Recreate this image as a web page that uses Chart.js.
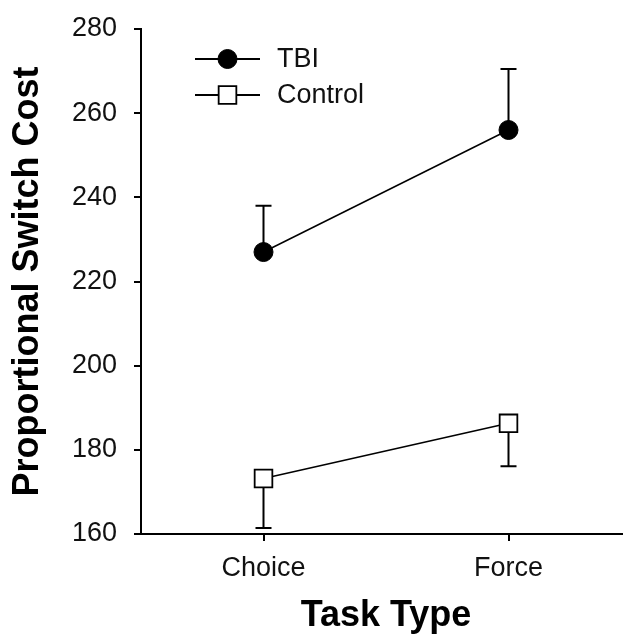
<!DOCTYPE html>
<html>
<head>
<meta charset="utf-8">
<script src="https://cdn.jsdelivr.net/npm/chart.js@4.4.1/dist/chart.umd.min.js"></script>
<style>
  html, body { margin: 0; padding: 0; background: #fff; overflow: hidden; }
  #wrap { width: 632px; height: 638px; }
</style>
</head>
<body>
<div id="wrap"><canvas id="myChart" width="632" height="638"></canvas></div>
<script>
// task types on the x axis
const taskTypes = ['Choice', 'Force'];

// mean proportional switch cost per group
const tbiMeans = [227, 256];
const controlMeans = [173.2, 186.3];

// error bar lengths (TBI drawn upward, Control drawn downward)
const tbiErrors = [11, 14.5];
const controlErrors = [11.8, 10.2];

const yMin = 160;
const yMax = 280;
const yStep = 20;

const FONT = "'Liberation Sans', Arial, sans-serif";
const INK = '#111';

// one-sided error bars, drawn under the markers
const errorBars = {
	id: 'errorBars',
	beforeDatasetsDraw(chart) {
		const ctx = chart.ctx;
		const yScale = chart.scales.y;
		chart.data.datasets.forEach((ds, i) => {
			const meta = chart.getDatasetMeta(i);
			ctx.save();
			ctx.strokeStyle = '#000';
			ctx.lineWidth = 2;
			meta.data.forEach((pt, j) => {
				const end = ds.data[j] + ds.errorSide * ds.errors[j];
				const yEnd = yScale.getPixelForValue(end);
				ctx.beginPath();
				ctx.moveTo(pt.x, pt.y);
				ctx.lineTo(pt.x, yEnd);
				ctx.moveTo(pt.x - 8, yEnd);
				ctx.lineTo(pt.x + 8, yEnd);
				ctx.stroke();
			});
			ctx.restore();
		});
	}
};

// legend: short line with the marker in the middle, label on the right
const lineLegend = {
	id: 'lineLegend',
	afterDraw(chart) {
		const ctx = chart.ctx;
		const area = chart.chartArea;
		chart.data.datasets.forEach((ds, i) => {
			const y = area.top + 30 + i * 36;
			const x0 = area.left + 54;
			const x1 = x0 + 65;
			const xm = (x0 + x1) / 2;
			ctx.save();
			ctx.strokeStyle = '#000';
			ctx.lineWidth = 2;
			ctx.beginPath();
			ctx.moveTo(x0, y);
			ctx.lineTo(x1, y);
			ctx.stroke();
			ctx.fillStyle = ds.pointBackgroundColor;
			ctx.strokeStyle = ds.pointBorderColor;
			ctx.lineWidth = ds.pointBorderWidth;
			Chart.helpers.drawPoint(ctx, {
				pointStyle: ds.pointStyle,
				radius: ds.pointRadius,
				rotation: 0,
				borderWidth: ds.pointBorderWidth
			}, xm, y);
			ctx.fillStyle = INK;
			ctx.font = '27px ' + FONT;
			ctx.textBaseline = 'middle';
			ctx.textAlign = 'left';
			ctx.fillText(ds.label, x1 + 17, y + 1);
			ctx.restore();
		});
	}
};

const data = {
	labels: taskTypes,
	datasets: [
		{
			label: 'TBI',
			data: tbiMeans,
			errors: tbiErrors,
			errorSide: 1,
			borderColor: '#000',
			borderWidth: 1.5,
			pointStyle: 'circle',
			pointRadius: 9.5,
			pointBackgroundColor: '#000',
			pointBorderColor: '#000',
			pointBorderWidth: 1
		},
		{
			label: 'Control',
			data: controlMeans,
			errors: controlErrors,
			errorSide: -1,
			borderColor: '#000',
			borderWidth: 1.5,
			pointStyle: 'rect',
			pointRadius: 12.5,
			pointBackgroundColor: '#fff',
			pointBorderColor: '#000',
			pointBorderWidth: 1.8
		}
	]
};

const config = {
	type: 'line',
	data: data,
	options: {
		responsive: false,
		animation: false,
		devicePixelRatio: 1,
		layout: {
			autoPadding: false,
			padding: { top: 29, right: 1, left: 0, bottom: 0 }
		},
		plugins: {
			legend: { display: false },
			tooltip: { enabled: false }
		},
		scales: {
			x: {
				type: 'category',
				offset: true,
				grid: {
					offset: false,
					drawOnChartArea: false,
					drawTicks: true,
					tickLength: 7,
					color: '#000',
					lineWidth: 2
				},
				border: { color: '#000', width: 2 },
				ticks: {
					color: INK,
					padding: 11,
					font: { family: FONT, size: 27 }
				},
				title: {
					display: true,
					text: 'Task Type',
					color: '#000',
					padding: { top: 14, bottom: 0 },
					font: { family: FONT, size: 36, weight: 'bold' }
				},
				afterFit(scale) {
					scale.height = 104;
					scale.paddingLeft = 0;
					scale.paddingRight = 0;
				}
			},
			y: {
				min: yMin,
				max: yMax,
				grid: {
					drawOnChartArea: false,
					drawTicks: true,
					tickLength: 7,
					color: '#000',
					lineWidth: 2
				},
				border: { color: '#000', width: 2 },
				ticks: {
					stepSize: yStep,
					color: INK,
					padding: 17,
					font: { family: FONT, size: 27 }
				},
				title: {
					display: true,
					text: 'Proportional Switch Cost',
					color: '#000',
					padding: { top: 6, bottom: 0 },
					font: { family: FONT, size: 36, weight: 'bold' }
				},
				afterFit(scale) {
					scale.width = 141;
					scale.paddingTop = 0;
					scale.paddingBottom = 0;
				}
			}
		}
	},
	plugins: [errorBars, lineLegend]
};

const myChart = new Chart(document.getElementById('myChart'), config);
</script>
</body>
</html>
